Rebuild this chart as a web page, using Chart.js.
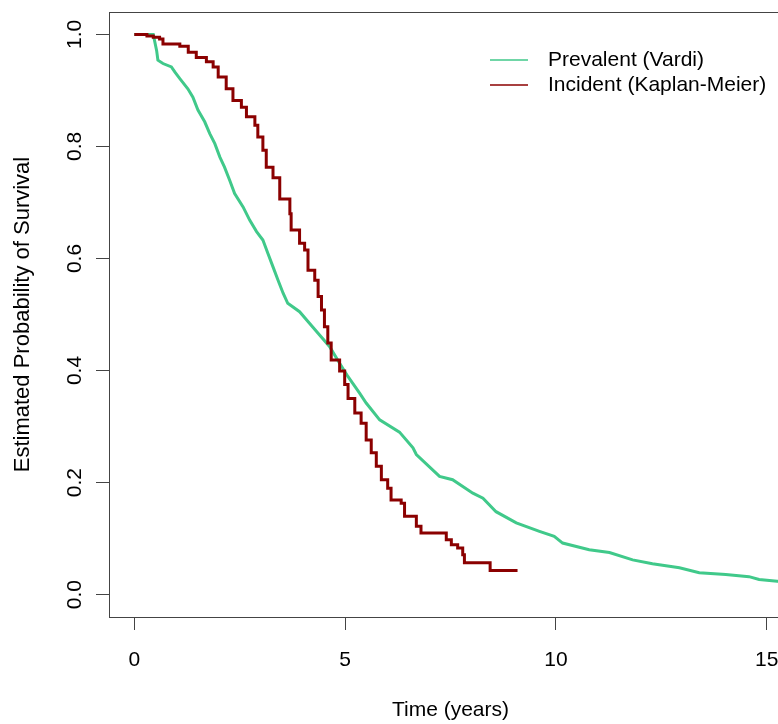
<!DOCTYPE html>
<html>
<head>
<meta charset="utf-8">
<title>Estimated survival</title>
<script src="https://cdn.jsdelivr.net/npm/chart.js@4.4.1/dist/chart.umd.min.js"></script>
<style>
  html, body { margin: 0; padding: 0; background: #fff; overflow: hidden; }
  #survivalChart { display: block; }
</style>
</head>
<body>
<canvas id="survivalChart" width="800" height="724"></canvas>
<script>
// survival estimates (time in years, probability)
const prevalentTime = [0, 0.45, 0.53, 0.56, 0.68, 0.88, 0.96, 1.08, 1.27, 1.39, 1.51, 1.67, 1.79, 1.91,
  2.03, 2.14, 2.26, 2.38, 2.58, 2.74, 2.90, 3.05, 3.17, 3.29, 3.41, 3.53, 3.64, 3.92, 4.16, 4.40,
  4.63, 4.87, 5.07, 5.34, 5.50, 5.82, 6.29, 6.61, 6.69, 7.24, 7.55, 8.03, 8.27, 8.58, 9.06, 9.61,
  9.96, 10.16, 10.79, 11.27, 11.82, 12.29, 12.93, 13.40, 14.03, 14.58, 14.82, 15.25, 15.6];
const prevalentSurv = [1.0, 1.0, 0.971, 0.954, 0.948, 0.942, 0.933, 0.921, 0.903, 0.888, 0.865, 0.844, 0.823, 0.805,
  0.781, 0.763, 0.740, 0.716, 0.692, 0.668, 0.648, 0.633, 0.609, 0.585, 0.561, 0.538, 0.520, 0.505, 0.484, 0.463,
  0.443, 0.413, 0.389, 0.360, 0.342, 0.312, 0.290, 0.262, 0.250, 0.211, 0.205, 0.181, 0.172, 0.148, 0.128, 0.113,
  0.104, 0.092, 0.080, 0.075, 0.062, 0.055, 0.048, 0.039, 0.036, 0.032, 0.027, 0.024, 0.022];

const incidentTime = [0, 0.3, 0.45, 0.6, 0.68, 1.08, 1.28, 1.47, 1.71, 1.87, 1.99, 2.18, 2.34, 2.54, 2.66,
  2.86, 2.93, 3.05, 3.13, 3.29, 3.45, 3.69, 3.72, 3.92, 4.04, 4.12, 4.28, 4.36, 4.44, 4.51, 4.59,
  4.67, 4.87, 4.99, 5.07, 5.23, 5.38, 5.50, 5.62, 5.74, 5.86, 6.01, 6.09, 6.33, 6.41, 6.69, 6.80,
  7.40, 7.52, 7.67, 7.79, 7.83, 8.44, 9.09];
const incidentSurv = [1.0, 0.997, 0.995, 0.992, 0.983, 0.979, 0.968, 0.959, 0.951, 0.942, 0.924, 0.903, 0.882, 0.870, 0.853,
  0.838, 0.817, 0.793, 0.763, 0.744, 0.706, 0.680, 0.651, 0.627, 0.615, 0.579, 0.561, 0.532, 0.508, 0.478, 0.449,
  0.419, 0.399, 0.375, 0.350, 0.324, 0.306, 0.276, 0.253, 0.229, 0.205, 0.190, 0.169, 0.163, 0.140, 0.122, 0.110,
  0.098, 0.089, 0.083, 0.071, 0.057, 0.043, 0.043];

const xTicks = [0, 5, 10, 15];
const xTickLabels = ['0', '5', '10', '15'];
const yTicks = [0, 0.2, 0.4, 0.6, 0.8, 1.0];
const yTickLabels = ['0.0', '0.2', '0.4', '0.6', '0.8', '1.0'];

const seriesNames = ['Prevalent (Vardi)', 'Incident (Kaplan-Meier)'];
const seriesColors = ['#40C98A', '#8B0000'];

const FONT = 'Arial, "Liberation Sans", sans-serif';

function toPoints(times, values) {
  return times.map((t, i) => ({ x: t, y: values[i] }));
}

// box around the plot region, like base graphics
const boxPlugin = {
  id: 'plotBox',
  afterDraw(chart) {
    const { ctx, chartArea } = chart;
    ctx.save();
    ctx.strokeStyle = '#444';
    ctx.lineWidth = 1;
    ctx.strokeRect(Math.round(chartArea.left) + 0.5, Math.round(chartArea.top) + 0.5,
      Math.round(chartArea.right - chartArea.left), Math.round(chartArea.bottom - chartArea.top));
    ctx.restore();
  }
};

// legend in the top-right corner, no frame
const legendPlugin = {
  id: 'cornerLegend',
  afterDraw(chart) {
    const { ctx } = chart;
    ctx.save();
    ctx.font = '21px ' + FONT;
    ctx.textBaseline = 'middle';
    chart.data.datasets.forEach((ds, i) => {
      const y = 60 + i * 25;
      ctx.strokeStyle = ds.borderColor;
      ctx.lineWidth = 1.5;
      ctx.beginPath();
      ctx.moveTo(490, y);
      ctx.lineTo(528, y);
      ctx.stroke();
      ctx.fillStyle = '#000';
      ctx.fillText(ds.label, 548, y);
    });
    ctx.restore();
  }
};

const ctx = document.getElementById('survivalChart').getContext('2d');
new Chart(ctx, {
  type: 'line',
  data: {
    datasets: [
      {
        label: seriesNames[0],
        data: toPoints(prevalentTime, prevalentSurv),
        borderColor: seriesColors[0],
        borderWidth: 3,
        pointRadius: 0,
        stepped: false,
        tension: 0,
        order: 1
      },
      {
        label: seriesNames[1],
        data: toPoints(incidentTime, incidentSurv),
        borderColor: seriesColors[1],
        borderWidth: 3,
        pointRadius: 0,
        stepped: true,
        order: 0
      }
    ]
  },
  options: {
    responsive: false,
    animation: false,
    devicePixelRatio: 1,
    layout: { padding: { top: 12, right: 8, bottom: 0, left: 0 } },
    plugins: {
      legend: { display: false },
      tooltip: { enabled: false }
    },
    scales: {
      x: {
        type: 'linear',
        min: -0.6,
        max: 15.6,
        afterFit(scale) {
          scale.height = 107;
          scale.paddingLeft = 0;
          scale.paddingRight = 0;
        },
        afterBuildTicks(scale) { scale.ticks = xTicks.map(v => ({ value: v })); },
        border: { display: false },
        grid: { drawOnChartArea: false, drawTicks: true, tickLength: 13, color: '#444' },
        ticks: {
          color: '#000',
          font: { family: FONT, size: 21 },
          padding: 18,
          maxRotation: 0,
          autoSkip: false,
          callback: (value) => xTickLabels[xTicks.indexOf(value)]
        },
        title: {
          display: true,
          text: 'Time (years)',
          color: '#000',
          font: { family: FONT, size: 21 },
          padding: { top: 0, bottom: 1 }
        }
      },
      y: {
        type: 'linear',
        min: -0.04,
        max: 1.04,
        afterFit(scale) {
          scale.width = 109;
          // rotated labels would otherwise push the plot down
          scale.paddingTop = 0;
          scale.paddingBottom = 0;
        },
        afterBuildTicks(scale) { scale.ticks = yTicks.map(v => ({ value: v })); },
        border: { display: false },
        grid: { drawOnChartArea: false, drawTicks: true, tickLength: 13, color: '#444' },
        ticks: {
          color: '#000',
          font: { family: FONT, size: 21 },
          padding: 6,
          minRotation: 90,
          maxRotation: 90,
          crossAlign: 'center',
          autoSkip: false,
          callback: (value) => yTickLabels[yTicks.indexOf(value)]
        },
        title: {
          display: true,
          text: 'Estimated Probability of Survival',
          color: '#000',
          font: { family: FONT, size: 22 },
          padding: { top: 10, bottom: 0 }
        }
      }
    }
  },
  plugins: [boxPlugin, legendPlugin]
});
</script>
</body>
</html>
